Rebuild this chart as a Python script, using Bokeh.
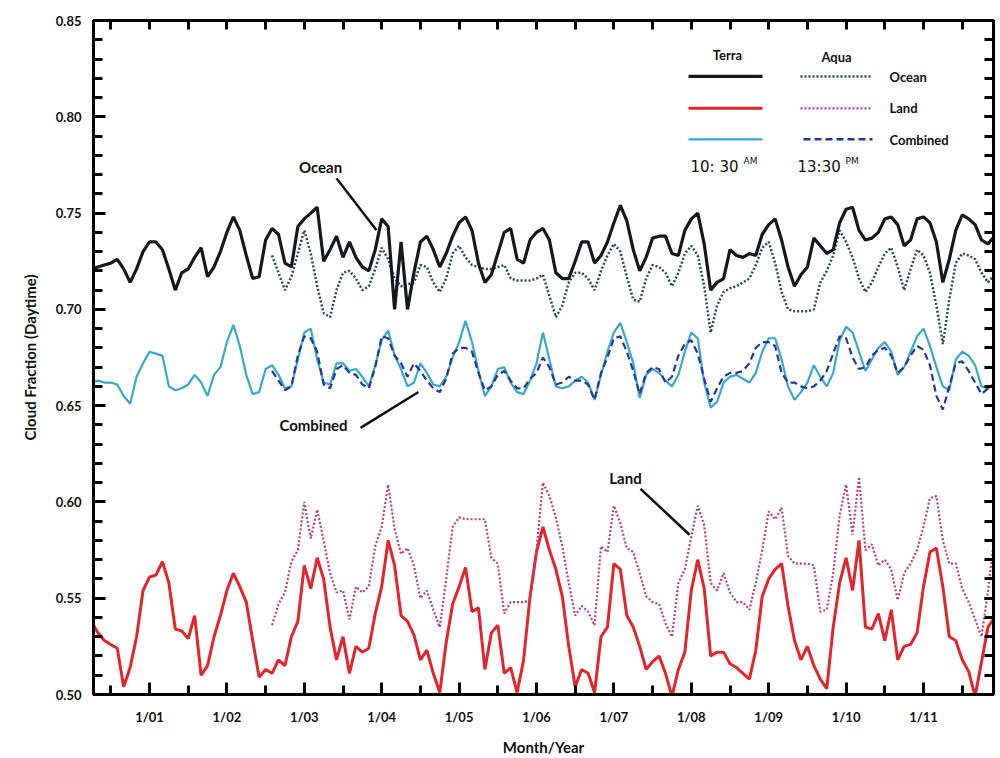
from bokeh.plotting import figure
from bokeh.models import (Range1d, FixedTicker, LinearAxis, Label,
                          NumeralTickFormatter, CustomJSTickFormatter)
from bokeh.embed import file_html
from bokeh.resources import INLINE

# ---------------- data (monthly, k = months after Jan 2001) ----------------
months_terra = list(range(-9, 132))   # Apr 2000 .. Dec 2011
months_aqua = list(range(19, 132))    # Aug 2002 .. Dec 2011

terra_ocean = [
    0.721, 0.722, 0.723, 0.724, 0.726, 0.721, 0.714, 0.721, 0.730,
    0.735, 0.735, 0.731, 0.721, 0.710, 0.719, 0.721, 0.727, 0.732, 0.717,
    0.722, 0.730, 0.740, 0.748, 0.741, 0.728, 0.716, 0.717, 0.736, 0.742,
    0.739, 0.724, 0.722, 0.743, 0.747, 0.750, 0.753, 0.725, 0.731, 0.738,
    0.727, 0.735, 0.727, 0.722, 0.720, 0.731, 0.747, 0.743, 0.700, 0.735,
    0.700, 0.719, 0.735, 0.738, 0.731, 0.722, 0.729, 0.738, 0.745, 0.748,
    0.741, 0.724, 0.714, 0.718, 0.729, 0.740, 0.742, 0.726, 0.724, 0.736,
    0.740, 0.742, 0.736, 0.719, 0.716, 0.716, 0.725, 0.735, 0.735, 0.724,
    0.728, 0.735, 0.745, 0.754, 0.746, 0.731, 0.720, 0.727, 0.737, 0.738,
    0.738, 0.729, 0.728, 0.741, 0.747, 0.750, 0.734, 0.710, 0.714, 0.716,
    0.731, 0.728, 0.727, 0.729, 0.728, 0.739, 0.744, 0.747, 0.736, 0.722,
    0.712, 0.718, 0.722, 0.737, 0.733, 0.729, 0.731, 0.745, 0.752, 0.753,
    0.741, 0.736, 0.737, 0.740, 0.747, 0.748, 0.744, 0.733, 0.736, 0.747,
    0.748, 0.745, 0.735, 0.714, 0.726, 0.741, 0.749, 0.747, 0.744, 0.736, 0.734, 0.738,
]

aqua_ocean = [
    0.728, 0.719, 0.710, 0.717, 0.729, 0.741, 0.729, 0.712, 0.698, 0.696, 0.710,
    0.719, 0.720, 0.716, 0.710, 0.712, 0.721, 0.732, 0.726, 0.716, 0.712,
    0.713, 0.714, 0.723, 0.722, 0.714, 0.709, 0.716, 0.729, 0.733, 0.727,
    0.723, 0.722, 0.721, 0.721, 0.722, 0.723, 0.716, 0.715, 0.715, 0.715,
    0.716, 0.718, 0.707, 0.696, 0.702, 0.714, 0.719, 0.719, 0.716, 0.710,
    0.720, 0.728, 0.734, 0.730, 0.717, 0.705, 0.704, 0.716, 0.723, 0.722,
    0.719, 0.712, 0.719, 0.729, 0.733, 0.728, 0.712, 0.688, 0.702, 0.709,
    0.711, 0.712, 0.714, 0.716, 0.723, 0.732, 0.735, 0.724, 0.709, 0.700,
    0.699, 0.699, 0.699, 0.700, 0.714, 0.720, 0.728, 0.741, 0.735, 0.727,
    0.716, 0.709, 0.714, 0.722, 0.729, 0.732, 0.722, 0.710, 0.721, 0.731,
    0.728, 0.719, 0.702, 0.682, 0.705, 0.724, 0.729, 0.728, 0.726, 0.719, 0.714, 0.718,
]

terra_land = [
    0.538, 0.532, 0.528, 0.526, 0.524, 0.504, 0.514, 0.530, 0.554,
    0.561, 0.562, 0.569, 0.558, 0.534, 0.533, 0.529, 0.541, 0.510, 0.515,
    0.530, 0.541, 0.554, 0.563, 0.556, 0.548, 0.528, 0.509, 0.513, 0.511,
    0.518, 0.515, 0.530, 0.538, 0.567, 0.555, 0.571, 0.560, 0.535, 0.518,
    0.530, 0.511, 0.525, 0.522, 0.524, 0.542, 0.556, 0.580, 0.567, 0.541,
    0.538, 0.531, 0.518, 0.523, 0.511, 0.501, 0.527, 0.547, 0.556, 0.566,
    0.543, 0.545, 0.513, 0.532, 0.536, 0.511, 0.514, 0.501, 0.518, 0.551,
    0.574, 0.587, 0.575, 0.565, 0.551, 0.525, 0.504, 0.513, 0.511, 0.501,
    0.530, 0.535, 0.568, 0.565, 0.541, 0.535, 0.525, 0.513, 0.517, 0.520,
    0.511, 0.499, 0.513, 0.522, 0.554, 0.570, 0.555, 0.520, 0.522, 0.522,
    0.516, 0.514, 0.511, 0.508, 0.523, 0.551, 0.560, 0.565, 0.568, 0.546,
    0.528, 0.518, 0.525, 0.515, 0.508, 0.503, 0.535, 0.558, 0.571, 0.554,
    0.580, 0.535, 0.534, 0.542, 0.528, 0.544, 0.518, 0.525, 0.526, 0.532,
    0.556, 0.574, 0.576, 0.556, 0.530, 0.528, 0.518, 0.512, 0.499, 0.517, 0.535, 0.540,
]

aqua_land = [
    0.536, 0.547, 0.553, 0.569, 0.575, 0.600, 0.581, 0.596, 0.580, 0.563, 0.553,
    0.554, 0.539, 0.556, 0.553, 0.556, 0.577, 0.587, 0.609, 0.586, 0.573,
    0.576, 0.567, 0.550, 0.554, 0.544, 0.535, 0.560, 0.587, 0.592, 0.591,
    0.591, 0.591, 0.591, 0.571, 0.568, 0.542, 0.548, 0.548, 0.548, 0.549,
    0.575, 0.610, 0.603, 0.592, 0.577, 0.558, 0.541, 0.546, 0.543, 0.536,
    0.577, 0.574, 0.598, 0.589, 0.576, 0.574, 0.563, 0.551, 0.548, 0.547,
    0.537, 0.530, 0.558, 0.565, 0.582, 0.598, 0.588, 0.558, 0.554, 0.563,
    0.553, 0.548, 0.548, 0.544, 0.558, 0.575, 0.595, 0.591, 0.597, 0.572,
    0.568, 0.568, 0.568, 0.567, 0.543, 0.544, 0.563, 0.593, 0.609, 0.583,
    0.613, 0.575, 0.578, 0.567, 0.570, 0.565, 0.549, 0.563, 0.568, 0.575,
    0.587, 0.602, 0.603, 0.580, 0.568, 0.568, 0.555, 0.548, 0.539, 0.530, 0.554, 0.582,
]

terra_combined = [
    0.662, 0.663, 0.662, 0.662, 0.661, 0.655, 0.651, 0.665, 0.672,
    0.678, 0.677, 0.676, 0.660, 0.658, 0.659, 0.661, 0.666, 0.662, 0.655,
    0.666, 0.670, 0.683, 0.692, 0.681, 0.666, 0.656, 0.657, 0.669, 0.671,
    0.666, 0.659, 0.660, 0.674, 0.688, 0.690, 0.674, 0.662, 0.661, 0.672,
    0.672, 0.668, 0.669, 0.665, 0.660, 0.671, 0.684, 0.689, 0.676, 0.669,
    0.660, 0.662, 0.672, 0.667, 0.661, 0.660, 0.665, 0.675, 0.683, 0.694,
    0.683, 0.668, 0.655, 0.660, 0.669, 0.670, 0.662, 0.657, 0.656, 0.663,
    0.672, 0.688, 0.674, 0.660, 0.659, 0.660, 0.663, 0.665, 0.662, 0.653,
    0.666, 0.678, 0.688, 0.693, 0.683, 0.672, 0.654, 0.666, 0.669, 0.667,
    0.663, 0.660, 0.666, 0.678, 0.688, 0.685, 0.662, 0.649, 0.652, 0.662,
    0.665, 0.666, 0.664, 0.662, 0.667, 0.678, 0.685, 0.685, 0.674, 0.660,
    0.653, 0.657, 0.662, 0.671, 0.665, 0.660, 0.667, 0.684, 0.691, 0.688,
    0.678, 0.668, 0.674, 0.680, 0.683, 0.678, 0.666, 0.670, 0.678, 0.686,
    0.690, 0.681, 0.670, 0.660, 0.658, 0.674, 0.678, 0.676, 0.671, 0.660, 0.659, 0.662,
]

aqua_combined = [
    0.668, 0.663, 0.658, 0.660, 0.676, 0.686, 0.685, 0.678, 0.661, 0.659, 0.669,
    0.671, 0.667, 0.666, 0.661, 0.659, 0.670, 0.686, 0.685, 0.676, 0.672,
    0.665, 0.672, 0.668, 0.663, 0.659, 0.657, 0.664, 0.677, 0.680, 0.680,
    0.678, 0.667, 0.658, 0.660, 0.666, 0.668, 0.663, 0.659, 0.659, 0.664,
    0.667, 0.675, 0.670, 0.661, 0.662, 0.665, 0.663, 0.663, 0.661, 0.653,
    0.667, 0.675, 0.685, 0.686, 0.678, 0.668, 0.656, 0.667, 0.670, 0.669,
    0.662, 0.665, 0.676, 0.682, 0.684, 0.677, 0.664, 0.652, 0.659, 0.665,
    0.667, 0.667, 0.668, 0.672, 0.680, 0.683, 0.683, 0.681, 0.667, 0.662,
    0.662, 0.660, 0.659, 0.660, 0.663, 0.668, 0.677, 0.686, 0.685, 0.675,
    0.669, 0.670, 0.676, 0.679, 0.680, 0.676, 0.667, 0.670, 0.676, 0.681,
    0.679, 0.671, 0.655, 0.648, 0.660, 0.672, 0.673, 0.668, 0.662, 0.656, 0.659, 0.661,
]

year_ticks = list(range(2001, 2012))
year_labels = ["1/01", "1/02", "1/03", "1/04", "1/05", "1/06",
               "1/07", "1/08", "1/09", "1/10", "1/11"]
half_year_ticks = [y + 0.5 for y in range(2000, 2012)]
y_ticks = [0.50, 0.55, 0.60, 0.65, 0.70, 0.75, 0.80, 0.85]
y_minor_ticks = [round(0.50 + 0.01 * i, 2) for i in range(36)]

x_terra = [2001 + k / 12 for k in months_terra]
x_aqua = [2001 + k / 12 for k in months_aqua]

# ---------------- layout helpers (pixel -> data) ----------------
PX_PER_YEAR = 77.4
X0 = 2001 - 56 / PX_PER_YEAR
X1 = 2001 + 844 / PX_PER_YEAR
FRAME_TOP, FRAME_BOTTOM = 20, 695


def fx(px):
    return 2001 + (px - 149) / PX_PER_YEAR


def fy(py):
    return 0.85 - (py - FRAME_TOP) * 0.35 / (FRAME_BOTTOM - FRAME_TOP)


FONT = "Lato"

p = figure(width=1000, height=758, x_range=Range1d(X0, X1), y_range=Range1d(0.50, 0.85),
           output_backend="svg", toolbar_location=None,
           min_border_left=93, min_border_right=7,
           min_border_top=FRAME_TOP, min_border_bottom=758 - FRAME_BOTTOM)
p.xgrid.visible = False
p.ygrid.visible = False
p.outline_line_color = "black"
p.outline_line_width = 3
p.background_fill_color = "white"
p.border_fill_color = "white"

yticker = FixedTicker(ticks=y_ticks, minor_ticks=y_minor_ticks)
xticker = FixedTicker(ticks=year_ticks, minor_ticks=half_year_ticks)

left_ax = p.left[0]
bottom_ax = p.below[0]

left_ax.ticker = yticker
left_ax.formatter = NumeralTickFormatter(format="0.00")
left_ax.axis_label = "Cloud Fraction (Daytime)"
bottom_ax.ticker = xticker
bottom_ax.major_label_overrides = {y: lab for y, lab in zip(year_ticks, year_labels)}
bottom_ax.axis_label = "Month/Year"

blank = CustomJSTickFormatter(code="return ''")
ra = LinearAxis(ticker=yticker, formatter=blank)
ta = LinearAxis(ticker=xticker, formatter=blank)
p.add_layout(ra, "right")
p.add_layout(ta, "above")

for ax in [left_ax, bottom_ax, ra, ta]:
    ax.axis_line_color = "black"
    ax.axis_line_width = 3
    ax.major_tick_in = 12
    ax.major_tick_out = 0
    ax.minor_tick_in = 9
    ax.minor_tick_out = 0
    ax.major_tick_line_width = 3
    ax.minor_tick_line_width = 3
    ax.major_tick_line_color = "black"
    ax.minor_tick_line_color = "black"
    ax.major_label_text_font = FONT
    ax.major_label_text_font_style = "bold"
    ax.major_label_text_font_size = "13px"
    ax.major_label_text_color = "#111111"
    ax.axis_label_text_font = FONT
    ax.axis_label_text_font_style = "bold"
    ax.axis_label_text_font_size = "15px"
    ax.axis_label_text_color = "#111111"

for ax in [ra, ta]:
    ax.major_label_standoff = 0
    ax.major_tick_in = 9

left_ax.major_label_standoff = 12
left_ax.axis_label_standoff = 14
bottom_ax.major_label_standoff = 14
bottom_ax.axis_label_standoff = 10

# ---------------- series ----------------
C_OCEAN = "#16181f"
C_LAND = "#e2262b"
C_COMB = "#3aa8cc"
C_AQ_OCEAN = "#2a4a50"
C_AQ_LAND = "#b8407a"
C_AQ_COMB = "#26389a"

p.line(x_aqua, aqua_ocean, line_color=C_AQ_OCEAN, line_width=2.5, line_dash="2 2")
p.line(x_terra, terra_ocean, line_color=C_OCEAN, line_width=3.2)
p.line(x_terra, terra_combined, line_color=C_COMB, line_width=2.2)
p.line(x_aqua, aqua_combined, line_color=C_AQ_COMB, line_width=2.2, line_dash="7 4")
p.line(x_terra, terra_land, line_color=C_LAND, line_width=3)
p.line(x_aqua, aqua_land, line_color=C_AQ_LAND, line_width=2.2, line_dash="2 2")

# ---------------- annotations ----------------
def label(px, py, text, size="15px", style="bold", align="center", font=FONT, color="#111111"):
    p.add_layout(Label(x=fx(px), y=fy(py), text=text, text_font=font,
                       text_font_style=style, text_font_size=size,
                       text_align=align, text_baseline="middle", text_color=color))


def seg(x0, y0, x1, y1, color="#111111", width=2.5, dash="solid"):
    p.segment(x0=[fx(x0)], y0=[fy(y0)], x1=[fx(x1)], y1=[fy(y1)],
              line_color=color, line_width=width, line_dash=dash)


label(320, 167, "Ocean")
seg(336, 178, 376, 230)
label(313, 425, "Combined")
seg(360, 428, 418, 392)
label(625, 478, "Land")
seg(640, 489, 689, 535)

# legend
label(727, 55, "Terra", size="13px")
label(836, 57, "Aqua", size="13px")
seg(688, 76, 762, 76, color=C_OCEAN, width=3.2)
seg(688, 108, 762, 108, color=C_LAND, width=3)
seg(688, 139, 762, 139, color=C_COMB, width=2.2)
seg(800, 76, 872, 76, color=C_AQ_OCEAN, width=2.5, dash="2 2")
seg(800, 108, 872, 108, color=C_AQ_LAND, width=2.2, dash="2 2")
seg(803, 139, 872, 139, color=C_AQ_COMB, width=2.5, dash="7 4")
label(889, 77, "Ocean", size="13px", align="left")
label(889, 108, "Land", size="13px", align="left")
label(889, 140, "Combined", size="13px", align="left")
label(690, 167, "10: 30", size="15px", style="normal", align="left", font="DejaVu Sans")
label(743, 161, "AM", size="9px", style="normal", align="left", font="DejaVu Sans")
label(797, 167, "13:30", size="15px", style="normal", align="left", font="DejaVu Sans")
label(845, 161, "PM", size="9px", style="normal", align="left", font="DejaVu Sans")

open("out.html", "w").write(file_html(p, INLINE))
